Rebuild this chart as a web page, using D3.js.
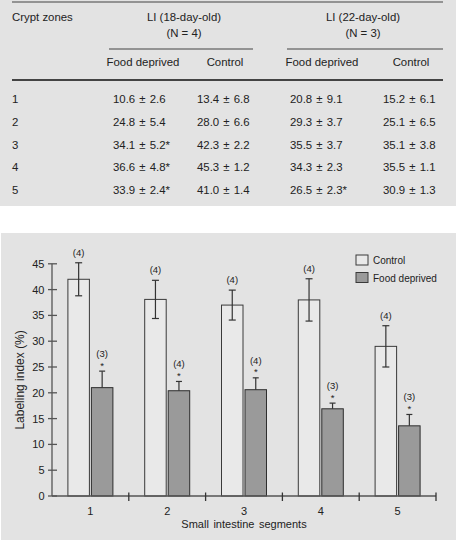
<!DOCTYPE html>
<html>
<head>
<meta charset="utf-8">
<script src="https://cdn.jsdelivr.net/npm/d3@7"></script>
<style>
  body { margin: 0; background: #fff; }
  svg text { font-family: "Liberation Sans", Arial, sans-serif; fill: #222; }
</style>
</head>
<body>
<svg class="chart"></svg>
<script>
const size = { w: 456, h: 540 };

// table data
const cryptZones = ["1", "2", "3", "4", "5"];
const fd18Mean = [10.6, 24.8, 34.1, 36.6, 33.9];
const fd18Sd = [2.6, 5.4, 5.2, 4.8, 2.4];
const fd18Sig = [false, false, true, true, true];
const ctl18Mean = [13.4, 28.0, 42.3, 45.3, 41.0];
const ctl18Sd = [6.8, 6.6, 2.2, 1.2, 1.4];
const fd22Mean = [20.8, 29.3, 35.5, 34.3, 26.5];
const fd22Sd = [9.1, 3.7, 3.7, 2.3, 2.3];
const fd22Sig = [false, false, false, false, true];
const ctl22Mean = [15.2, 25.1, 35.1, 35.5, 30.9];
const ctl22Sd = [6.1, 6.5, 3.8, 1.1, 1.3];

// bar chart data
const segments = ["1", "2", "3", "4", "5"];
const controlMean = [42, 38.1, 37, 38, 29];
const controlErr = [3.2, 3.7, 2.9, 4.1, 4.0];
const controlN = [4, 4, 4, 4, 4];
const deprivedMean = [21, 20.4, 20.6, 16.9, 13.6];
const deprivedErr = [3.2, 1.8, 2.3, 1.1, 2.2];
const deprivedN = [3, 4, 4, 3, 3];
const yTicks = [0, 5, 10, 15, 20, 25, 30, 35, 40, 45];

const svg = d3.select("svg.chart").attr("width", size.w).attr("height", size.h);

// ---------- TABLE ----------
const tableG = svg.append("g");
tableG.append("rect").attr("x", 0).attr("y", 0).attr("width", 456).attr("height", 206).attr("fill", "#e3e3e3");

const line = (g, x1, x2, y, w) =>
  g.append("line").attr("x1", x1).attr("x2", x2).attr("y1", y).attr("y2", y)
    .attr("stroke", "#444").attr("stroke-width", w);

line(tableG, 12, 443, 2, 1.2);
line(tableG, 109, 253, 49, 1.2);
line(tableG, 287, 443, 49, 1.2);
line(tableG, 12, 443, 80, 2);

const txt = (g, x, y, s, anchor, fs) =>
  g.append("text").attr("x", x).attr("y", y).attr("text-anchor", anchor || "start")
    .attr("font-size", fs || 11).text(s);

const tfs = 11.4;
txt(tableG, 12, 21, "Crypt zones", "start", tfs);
txt(tableG, 184, 21, "LI (18-day-old)", "middle", tfs);
txt(tableG, 184, 37, "(N = 4)", "middle", tfs);
txt(tableG, 363, 21, "LI (22-day-old)", "middle", tfs);
txt(tableG, 363, 37, "(N = 3)", "middle", tfs);
txt(tableG, 143, 66, "Food deprived", "middle", tfs);
txt(tableG, 225, 66, "Control", "middle", tfs);
txt(tableG, 322, 66, "Food deprived", "middle", tfs);
txt(tableG, 411, 66, "Control", "middle", tfs);

const fmt = (m, s, sig) => m.toFixed(1) + " ± " + s.toFixed(1) + (sig ? "*" : "");
const rowY = d3.scaleLinear().domain([0, 4]).range([103, 194]);

const columns = [
  { x: 113, mean: fd18Mean, sd: fd18Sd, sig: fd18Sig },
  { x: 197, mean: ctl18Mean, sd: ctl18Sd, sig: null },
  { x: 290, mean: fd22Mean, sd: fd22Sd, sig: fd22Sig },
  { x: 383, mean: ctl22Mean, sd: ctl22Sd, sig: null },
];

tableG.selectAll("text.zone").data(cryptZones).join("text").classed("zone", true)
  .attr("x", 12).attr("y", (d, i) => rowY(i)).attr("font-size", tfs).text((d) => d);

columns.forEach((c) => {
  tableG.append("g").selectAll("text").data(c.mean).join("text")
    .attr("x", c.x).attr("y", (d, i) => rowY(i)).attr("font-size", tfs)
    .attr("word-spacing", 1)
    .text((d, i) => fmt(d, c.sd[i], c.sig && c.sig[i]));
});

// ---------- BAR CHART ----------
const chartG = svg.append("g");
chartG.append("rect").attr("x", 1).attr("y", 233).attr("width", 455).attr("height", 307).attr("fill", "#e3e3e3");

const x = d3.scaleBand().domain(segments).range([52, 436]);
const y = d3.scaleLinear().domain([0, 45]).range([496, 263.8]);
const cx = (d) => x(d) + x.bandwidth() / 2;
const barW = 21.5;

const axisColor = "#555";

// y axis
chartG.append("line").attr("x1", 52).attr("x2", 52).attr("y1", y(0)).attr("y2", y(45))
  .attr("stroke", axisColor).attr("stroke-width", 1.3);
chartG.append("g").selectAll("line").data(yTicks).join("line")
  .attr("x1", 48).attr("x2", 57).attr("y1", (d) => y(d)).attr("y2", (d) => y(d))
  .attr("stroke", axisColor).attr("stroke-width", 1.3);
chartG.append("g").selectAll("text").data(yTicks).join("text")
  .attr("x", 44.5).attr("y", (d) => y(d) + 4).attr("text-anchor", "end")
  .attr("font-size", 11).attr("fill", "#333").text((d) => d);

chartG.append("text")
  .attr("transform", `translate(24, ${(y(0) + y(45)) / 2}) rotate(-90)`)
  .attr("text-anchor", "middle").attr("font-size", 12).text("Labeling index (%)");

// bars: control
chartG.append("g").selectAll("rect").data(segments).join("rect")
  .attr("x", (d) => cx(d) - 1 - barW).attr("width", barW)
  .attr("y", (d, i) => y(controlMean[i])).attr("height", (d, i) => y(0) - y(controlMean[i]))
  .attr("fill", "#e9e9e9").attr("stroke", "#3a3a3a").attr("stroke-width", 1);

// bars: food deprived
chartG.append("g").selectAll("rect").data(segments).join("rect")
  .attr("x", (d) => cx(d) + 1).attr("width", barW)
  .attr("y", (d, i) => y(deprivedMean[i])).attr("height", (d, i) => y(0) - y(deprivedMean[i]))
  .attr("fill", "#9a9a9a").attr("stroke", "#2e2e2e").attr("stroke-width", 1);

// error bars control (both directions), food deprived (upper only)
const ctlX = (d) => cx(d) - 1 - barW / 2;
const fdX = (d) => cx(d) + 1 + barW / 2;
const errG = chartG.append("g").attr("stroke", "#333").attr("stroke-width", 1.2);
segments.forEach((d, i) => {
  const top = y(controlMean[i] + controlErr[i]);
  const bot = y(controlMean[i] - controlErr[i]);
  errG.append("line").attr("x1", ctlX(d)).attr("x2", ctlX(d)).attr("y1", top).attr("y2", bot);
  errG.append("line").attr("x1", ctlX(d) - 3.5).attr("x2", ctlX(d) + 3.5).attr("y1", top).attr("y2", top);
  errG.append("line").attr("x1", ctlX(d) - 3.5).attr("x2", ctlX(d) + 3.5).attr("y1", bot).attr("y2", bot);

  const ftop = y(deprivedMean[i] + deprivedErr[i]);
  errG.append("line").attr("x1", fdX(d)).attr("x2", fdX(d)).attr("y1", ftop).attr("y2", y(deprivedMean[i]));
  errG.append("line").attr("x1", fdX(d) - 3).attr("x2", fdX(d) + 3).attr("y1", ftop).attr("y2", ftop);

  // n labels and significance stars
  txt(chartG, ctlX(d), top - 7, "(" + controlN[i] + ")", "middle", 9.5);
  txt(chartG, fdX(d), ftop - 14, "(" + deprivedN[i] + ")", "middle", 9.5);
  txt(chartG, fdX(d), ftop - 2.5, "*", "middle", 9.5);
});

// x axis
chartG.append("line").attr("x1", 52).attr("x2", 436).attr("y1", y(0)).attr("y2", y(0))
  .attr("stroke", axisColor).attr("stroke-width", 1.3);
chartG.append("g").selectAll("line").data(segments).join("line")
  .attr("x1", (d) => x(d) + x.bandwidth()).attr("x2", (d) => x(d) + x.bandwidth())
  .attr("y1", y(0) - 3.5).attr("y2", y(0) + 5)
  .attr("stroke", "#333").attr("stroke-width", 1.3);
chartG.append("g").selectAll("text").data(segments).join("text")
  .attr("x", cx).attr("y", 515).attr("text-anchor", "middle")
  .attr("font-size", 11).attr("fill", "#333").text((d) => d);
chartG.append("text").attr("x", 244).attr("y", 528).attr("text-anchor", "middle")
  .attr("font-size", 11).attr("word-spacing", 1.5).text("Small intestine segments");

// legend
const legend = [
  { label: "Control", fill: "#e9e9e9" },
  { label: "Food deprived", fill: "#9a9a9a" },
];
const legG = chartG.append("g");
legend.forEach((l, i) => {
  legG.append("rect").attr("x", 356).attr("y", 255 + i * 17.5).attr("width", 12).attr("height", 10)
    .attr("fill", l.fill).attr("stroke", "#3a3a3a");
  txt(legG, 373, 264 + i * 17.5, l.label, "start", 10);
});
</script>
</body>
</html>
